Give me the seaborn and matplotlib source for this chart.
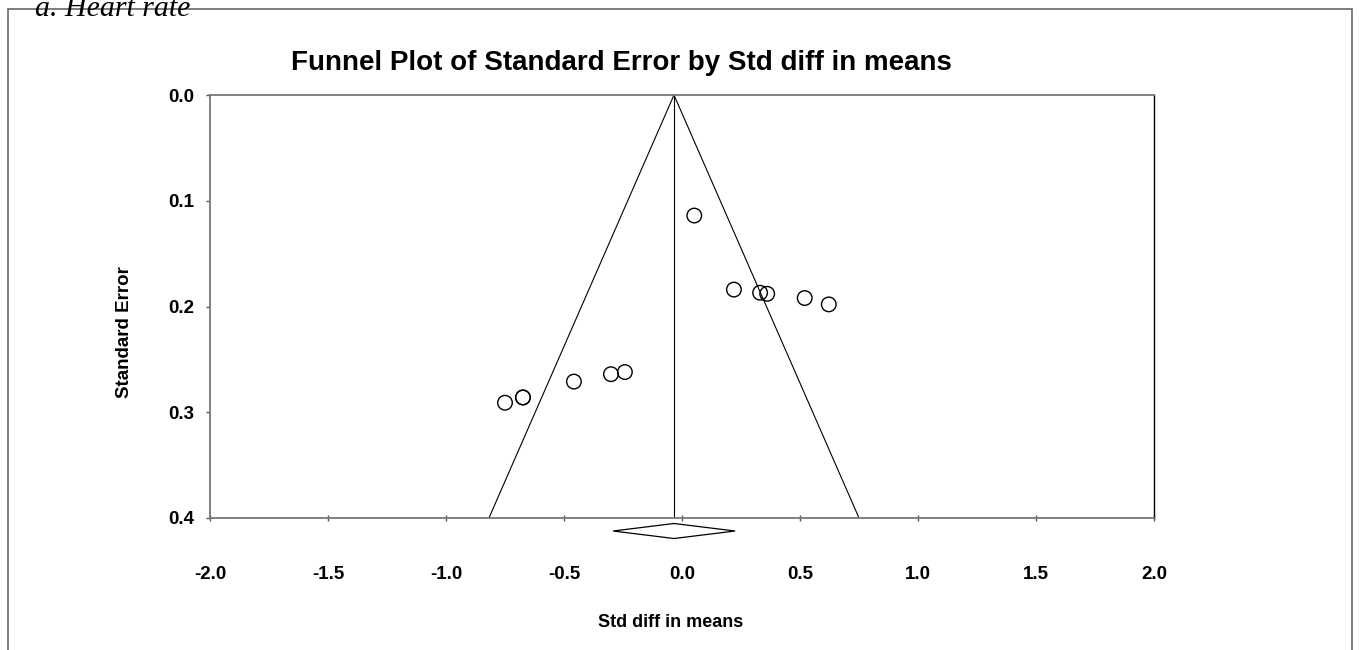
import numpy as np
import pandas as pd
import matplotlib
matplotlib.use("Agg")
import matplotlib.pyplot as plt
import seaborn as sns
from matplotlib.patches import Polygon, Rectangle

# ---- data ----
std_diff = [0.052, 0.220, 0.331, 0.361, 0.520, 0.622, -0.242, -0.301, -0.458, -0.674, -0.674, -0.750]
std_err = [0.114, 0.184, 0.187, 0.188, 0.192, 0.198, 0.262, 0.264, 0.271, 0.286, 0.286, 0.291]
pooled_est = -0.034
pooled_ci = [-0.292, 0.225]
x_ticks = [-2.0, -1.5, -1.0, -0.5, 0.0, 0.5, 1.0, 1.5, 2.0]
y_ticks = [0.0, 0.1, 0.2, 0.3, 0.4]

sns.set_theme(style="white")
plt.rcParams['font.family'] = ['Liberation Sans', 'DejaVu Sans']
plt.rcParams['text.color'] = 'black'
plt.rcParams['axes.labelcolor'] = 'black'
plt.rcParams['xtick.color'] = 'black'
plt.rcParams['ytick.color'] = 'black'

fig = plt.figure(figsize=(13.59, 6.5), dpi=100)
ax = fig.add_axes([210/1359, 1-518/650, 944/1359, 423/650])

df = pd.DataFrame({"x": std_diff, "y": std_err})
sns.scatterplot(data=df, x="x", y="y", ax=ax, s=110, marker="o",
                facecolor="none", edgecolor="black", linewidth=1.0, zorder=3)

# funnel lines (pseudo 95% limits)
se_max = y_ticks[-1]
ax.plot([pooled_est - 1.96 * se_max, pooled_est, pooled_est + 1.96 * se_max],
        [se_max, 0.0, se_max], color="black", lw=0.8)
ax.plot([pooled_est, pooled_est], [0.0, se_max], color="black", lw=0.8)

# diamond for pooled estimate
yc, hh = 0.4123, 0.0071
diamond = Polygon([[pooled_ci[0], yc], [pooled_est, yc - hh], [pooled_ci[1], yc], [pooled_est, yc + hh]],
                  closed=True, facecolor="white", edgecolor="black", lw=0.9, clip_on=False, zorder=4)
ax.add_patch(diamond)

ax.set_xlim(x_ticks[0], x_ticks[-1])
ax.set_ylim(y_ticks[-1], y_ticks[0])
ax.set_xticks(x_ticks)
ax.set_yticks(y_ticks)
ax.set_xticklabels([f"{v:.1f}" for v in x_ticks], fontsize=13.5, fontweight="bold")
ax.set_yticklabels([f"{v:.1f}" for v in y_ticks], fontsize=13.5, fontweight="bold")
ax.tick_params(axis="x", direction="inout", length=5, width=1, color="#555555", pad=32, bottom=True)
ax.tick_params(axis="y", direction="out", length=3, width=1, color="#555555", pad=8, left=True)

for name in ["left", "bottom", "top"]:
    ax.spines[name].set_color("#777777")
    ax.spines[name].set_linewidth(1.3)
ax.spines["right"].set_color("black")
ax.spines["right"].set_linewidth(1.0)

ax.set_xlabel("Std diff in means", fontsize=13, fontweight="bold", va="top")
ax.xaxis.set_label_coords(0.488, -0.227)
ax.set_ylabel("Standard Error", fontsize=13.5, fontweight="bold", va="center")
ax.yaxis.set_label_coords(-0.091, 0.44)
ax.set_title("Funnel Plot of Standard Error by Std diff in means", fontsize=20,
             fontweight="bold", pad=18, x=0.436)

# outer frame and caption
frame = Rectangle((8/1359, -0.05), (1352-8)/1359, 1.05 - 9/650, transform=fig.transFigure,
                  fill=False, edgecolor="#666666", lw=1.2)
fig.patches.append(frame)
fig.text(35/1359, 1-16/650, "a. Heart rate", family=["Liberation Serif"], style="italic",
         fontsize=21.5, ha="left", va="baseline")

fig.savefig("out.png", dpi=100)
